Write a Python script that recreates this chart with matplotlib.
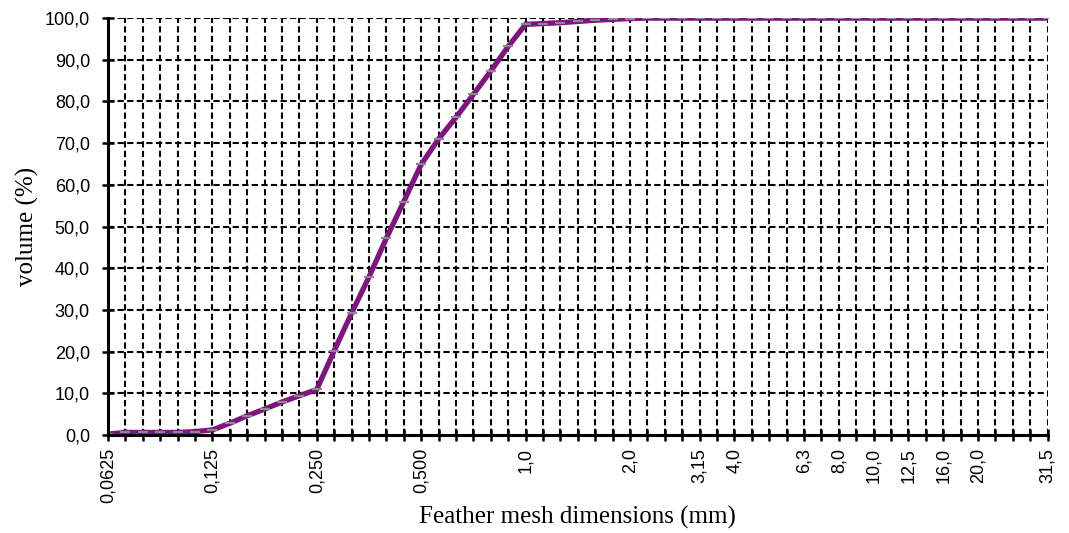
import numpy as np
import matplotlib
matplotlib.use("Agg")
import matplotlib.pyplot as plt

# Sieve openings (mm), one category per sieve
sieve_sizes = [0.0625, 0.071, 0.080, 0.090, 0.100, 0.112, 0.125, 0.140, 0.160, 0.180,
               0.200, 0.224, 0.250, 0.280, 0.315, 0.355, 0.400, 0.450, 0.500, 0.560,
               0.630, 0.710, 0.800, 0.900, 1.0, 1.12, 1.25, 1.40, 1.60, 1.80,
               2.0, 2.24, 2.50, 2.80, 3.15, 3.55, 4.0, 4.5, 5.0, 5.6,
               6.3, 7.1, 8.0, 9.0, 10.0, 11.2, 12.5, 14.0, 16.0, 18.0,
               20.0, 22.4, 25.0, 28.0, 31.5]

# Cumulative volume passing (%)
volume_pct = [0.2, 0.6, 0.6, 0.6, 0.6, 0.8, 1.2, 2.8, 4.6, 6.2,
              7.9, 9.4, 10.9, 20.2, 29.2, 37.9, 47.2, 56.0, 64.9, 71.0,
              76.2, 81.7, 87.3, 93.2, 98.5, 98.7, 98.9, 99.2, 99.5, 99.7,
              99.9, 100.0, 100.0, 100.0, 100.0, 100.0, 100.0, 100.0, 100.0, 100.0,
              100.0, 100.0, 100.0, 100.0, 100.0, 100.0, 100.0, 100.0, 100.0, 100.0,
              100.0, 100.0, 100.0, 100.0, 100.0]

# Sizes that carry a label on the x axis
labelled_sizes = [0.0625, 0.125, 0.250, 0.500, 1.0, 2.0, 3.15, 4.0, 6.3, 8.0,
                  10.0, 12.5, 16.0, 20.0, 31.5]
labelled_text = ["0,0625", "0,125", "0,250", "0,500", "1,0", "2,0", "3,15", "4,0",
                 "6,3", "8,0", "10,0", "12,5", "16,0", "20,0", "31,5"]

y_ticks = np.arange(0, 101, 10)
y_tick_labels = [f"{v:.1f}".replace(".", ",") for v in y_ticks]

fig = plt.figure(figsize=(10.69, 5.33), dpi=100)
ax = fig.add_axes([0.101, 0.184, 0.879, 0.782])

x = np.arange(len(sieve_sizes))

# Dashed grid: one vertical per sieve, horizontals every 10 %
grid_kw = dict(color="black", lw=1.5, dashes=(3, 1.6), zorder=1)
for xi in x[1:]:
    ax.axvline(xi, **grid_kw)
for yv in y_ticks[1:]:
    ax.axhline(yv, **grid_kw)

ax.plot(x, volume_pct, color="#7f137f", lw=3.8, zorder=3,
        solid_joinstyle="miter", solid_capstyle="butt")
ax.plot(x, volume_pct, ls="none", marker="_", ms=7, mew=1.6,
        color="#8a8a8a", zorder=4)

ax.set_xlim(0, len(sieve_sizes) - 1)
ax.set_ylim(0, 100)

label_pos = [sieve_sizes.index(s) for s in labelled_sizes]
ax.set_xticks(x)
tick_text = [""] * len(sieve_sizes)
for p, t in zip(label_pos, labelled_text):
    tick_text[p] = t
ax.set_xticklabels(tick_text, rotation=90, fontsize=13,
                   family="Liberation Sans")
ax.set_yticks(y_ticks)
ax.set_yticklabels(y_tick_labels, fontsize=13, family="Liberation Sans")

ax.tick_params(axis="both", direction="inout", length=9, width=1.8,
               color="black")
ax.tick_params(axis="y", pad=8.5)
ax.tick_params(axis="x", pad=5)

for side in ("top", "right"):
    ax.spines[side].set_visible(False)
for side in ("left", "bottom"):
    ax.spines[side].set_linewidth(2.2)
    ax.spines[side].set_zorder(5)

ax.set_xlabel("Feather mesh dimensions (mm)", family="Liberation Serif",
              fontsize=18, labelpad=2)
ax.set_ylabel("volume (%)", family="Liberation Serif", fontsize=18)
ax.yaxis.set_label_coords(-0.073, 0.5)

fig.savefig("out.png", dpi=100)
